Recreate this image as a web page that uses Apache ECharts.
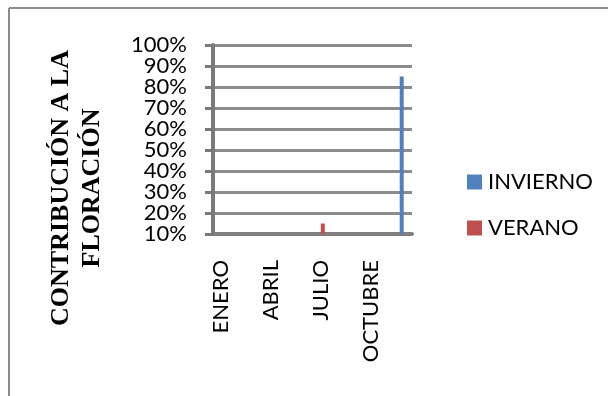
<!DOCTYPE html>
<html>
<head>
<meta charset="utf-8">
<script src="https://cdn.jsdelivr.net/npm/echarts@6/dist/echarts.min.js"></script>
<style>
  html, body { margin: 0; padding: 0; background: #fff; }
  #chart { width: 608px; height: 396px; }
</style>
</head>
<body>
<div id="chart"></div>
<script>
// Months of the year; only every third one is labelled on the axis
var months = ['ENERO', 'FEBRERO', 'MARZO', 'ABRIL', 'MAYO', 'JUNIO',
              'JULIO', 'AGOSTO', 'SEPTIEMBRE', 'OCTUBRE', 'NOVIEMBRE', 'DICIEMBRE'];

// Contribution to flowering (%) per month for each season
var invierno = [null, null, null, null, null, null, null, null, null, null, null, 85];
var verano   = [null, null, null, null, null, null, 15, null, null, null, null, null];

// Percentage ticks of the value axis
var yTicks = [10, 20, 30, 40, 50, 60, 70, 80, 90, 100];
var yTickLabels = ['10%', '20%', '30%', '40%', '50%', '60%', '70%', '80%', '90%', '100%'];

var axisTitle = 'CONTRIBUCIÓN A LA\nFLORACIÓN';

var gridGray = '#8c8c8c';
var axisGray = '#7a7a7a';
var chart = echarts.init(document.getElementById('chart'));

chart.setOption({
  backgroundColor: '#ffffff',
  animation: false,
  grid: { left: 213, right: 196, top: 45, bottom: 162 },
  legend: {
    orient: 'vertical',
    left: 462,
    top: 166,
    itemWidth: 15,
    itemHeight: 15,
    itemGap: 24,
    icon: 'rect',
    textStyle: { fontFamily: 'Lato', fontSize: 22, color: '#000', padding: [0, 0, 0, 1] },
    data: ['INVIERNO', 'VERANO']
  },
  xAxis: {
    type: 'category',
    data: months,
    axisLine: { show: true, lineStyle: { color: '#7f7f7f', width: 4 } },
    axisTick: { show: false },
    axisLabel: {
      interval: 2,
      rotate: 90,
      margin: 26,
      fontFamily: 'Lato',
      fontSize: 22,
      color: '#000'
    }
  },
  yAxis: [
    {
      // value scale used by the bars, with the horizontal grid lines
      type: 'value',
      min: yTicks[0],
      max: yTicks[yTicks.length - 1],
      interval: 10,
      axisLine: { show: false },
      axisTick: { show: false },
      axisLabel: { show: false },
      splitLine: { show: true, lineStyle: { color: gridGray, width: 3 } }
    },
    {
      // percentage labels, one at every grid line
      type: 'category',
      position: 'left',
      data: yTickLabels,
      boundaryGap: false,
      axisLine: { show: true, lineStyle: { color: axisGray, width: 4 } },
      axisTick: { show: true, interval: 0, length: 8, lineStyle: { color: axisGray, width: 3 } },
      splitLine: { show: false },
      axisLabel: {
        interval: 0,
        margin: 26,
        fontFamily: 'Lato',
        fontSize: 22,
        color: '#000',
        lineHeight: 22,
        padding: [4, 0, 0, 0]
      }
    }
  ],
  series: [
    {
      name: 'INVIERNO',
      type: 'bar',
      yAxisIndex: 0,
      data: invierno,
      barWidth: 4,
      barGap: '0%',
      itemStyle: { color: '#4f81bd' }
    },
    {
      name: 'VERANO',
      type: 'bar',
      yAxisIndex: 0,
      data: verano,
      barWidth: 4,
      itemStyle: { color: '#c0504d' }
    }
  ],
  graphic: [
    // outer frame (top and left edges)
    { type: 'line', shape: { x1: 9, y1: 8, x2: 608, y2: 8 }, style: { stroke: '#8c8c8c', lineWidth: 2 } },
    { type: 'line', shape: { x1: 9, y1: 8, x2: 9, y2: 396 }, style: { stroke: '#8c8c8c', lineWidth: 2 } },
    // vertical axis title
    {
      type: 'text',
      x: 77,
      y: 188,
      rotation: Math.PI / 2,
      style: {
        text: axisTitle,
        fontFamily: 'Liberation Serif',
        fontWeight: 'bold',
        fontSize: 26,
        lineHeight: 31,
        fill: '#000',
        align: 'center',
        verticalAlign: 'middle'
      }
    }
  ]
});
</script>
</body>
</html>
